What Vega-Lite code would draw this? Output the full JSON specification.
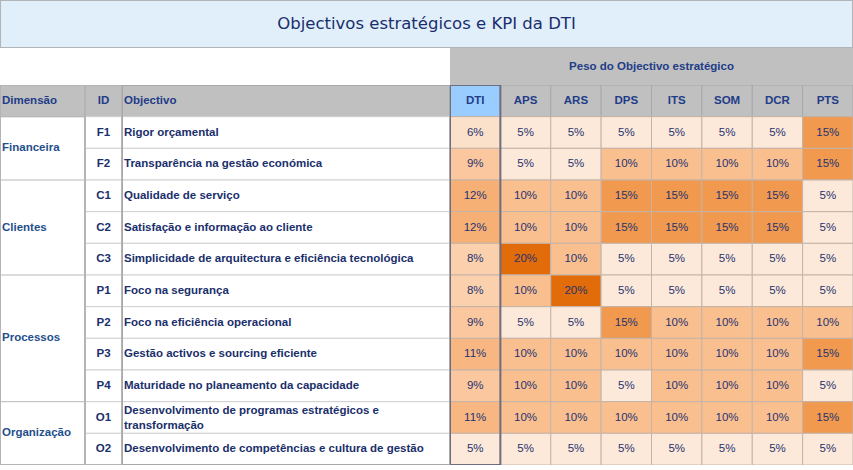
{
  "$schema": "https://vega.github.io/schema/vega-lite/v6.json",
  "padding": 0,
  "spacing": 0,
  "background": "white",
  "config": {
    "view": {"stroke": null},
    "concat": {"spacing": 0},
    "font": "Liberation Sans",
    "text": {"font": "Liberation Sans", "fontSize": 11.5}
  },
  "datasets": {
    "obj": [
      {"dim": "Financeira", "id": "F1", "obj": "Rigor orçamental", "DTI": 0.06, "APS": 0.05, "ARS": 0.05, "DPS": 0.05, "ITS": 0.05, "SOM": 0.05, "DCR": 0.05, "PTS": 0.15},
      {"dim": "Financeira", "id": "F2", "obj": "Transparência na gestão económica", "DTI": 0.09, "APS": 0.05, "ARS": 0.05, "DPS": 0.10, "ITS": 0.10, "SOM": 0.10, "DCR": 0.10, "PTS": 0.15},
      {"dim": "Clientes", "id": "C1", "obj": "Qualidade de serviço", "DTI": 0.12, "APS": 0.10, "ARS": 0.10, "DPS": 0.15, "ITS": 0.15, "SOM": 0.15, "DCR": 0.15, "PTS": 0.05},
      {"dim": "Clientes", "id": "C2", "obj": "Satisfação e informação ao cliente", "DTI": 0.12, "APS": 0.10, "ARS": 0.10, "DPS": 0.15, "ITS": 0.15, "SOM": 0.15, "DCR": 0.15, "PTS": 0.05},
      {"dim": "Clientes", "id": "C3", "obj": "Simplicidade de arquitectura e eficiência tecnológica", "DTI": 0.08, "APS": 0.20, "ARS": 0.10, "DPS": 0.05, "ITS": 0.05, "SOM": 0.05, "DCR": 0.05, "PTS": 0.05},
      {"dim": "Processos", "id": "P1", "obj": "Foco na segurança", "DTI": 0.08, "APS": 0.10, "ARS": 0.20, "DPS": 0.05, "ITS": 0.05, "SOM": 0.05, "DCR": 0.05, "PTS": 0.05},
      {"dim": "Processos", "id": "P2", "obj": "Foco na eficiência operacional", "DTI": 0.09, "APS": 0.05, "ARS": 0.05, "DPS": 0.15, "ITS": 0.10, "SOM": 0.10, "DCR": 0.10, "PTS": 0.10},
      {"dim": "Processos", "id": "P3", "obj": "Gestão activos e sourcing eficiente", "DTI": 0.11, "APS": 0.10, "ARS": 0.10, "DPS": 0.10, "ITS": 0.10, "SOM": 0.10, "DCR": 0.10, "PTS": 0.15},
      {"dim": "Processos", "id": "P4", "obj": "Maturidade no planeamento da capacidade", "DTI": 0.09, "APS": 0.10, "ARS": 0.10, "DPS": 0.05, "ITS": 0.10, "SOM": 0.10, "DCR": 0.10, "PTS": 0.05},
      {"dim": "Organização", "id": "O1", "obj": "Desenvolvimento de programas estratégicos e\ntransformação", "DTI": 0.11, "APS": 0.10, "ARS": 0.10, "DPS": 0.10, "ITS": 0.10, "SOM": 0.10, "DCR": 0.10, "PTS": 0.15},
      {"dim": "Organização", "id": "O2", "obj": "Desenvolvimento de competências e cultura de gestão", "DTI": 0.05, "APS": 0.05, "ARS": 0.05, "DPS": 0.05, "ITS": 0.05, "SOM": 0.05, "DCR": 0.05, "PTS": 0.05}
    ],
    "dims": [
      {"dim": "Financeira", "from": "F1", "at": "F1", "even": true},
      {"dim": "Clientes", "from": "C1", "at": "C2", "even": false},
      {"dim": "Processos", "from": "P1", "at": "P2", "even": true},
      {"dim": "Organização", "from": "O1", "at": "O1", "even": true}
    ],
    "cols": [
      {"col": "DTI"}, {"col": "APS"}, {"col": "ARS"}, {"col": "DPS"},
      {"col": "ITS"}, {"col": "SOM"}, {"col": "DCR"}, {"col": "PTS"}
    ]
  },
  "vconcat": [
    {
      "width": 853,
      "height": 48,
      "data": {"values": [{"t": "Objectivos estratégicos e KPI da DTI", "c": "c"}]},
      "view": {"fill": "#e1effb", "stroke": null},
      "layer": [
        {
          "mark": {"type": "rect", "fill": null, "fillOpacity": 0, "stroke": "#b4b4b4", "strokeWidth": 2, "clip": true},
          "encoding": {
            "x": {"field": "c", "type": "nominal", "scale": {"type": "band", "domain": ["c"], "paddingInner": 0, "paddingOuter": 0}, "axis": null}
          }
        },
        {
          "mark": {"type": "text", "font": "DejaVu Sans", "fontSize": 16.5, "color": "#1a2e6e", "baseline": "middle", "align": "center"},
          "encoding": {
            "x": {"field": "c", "type": "nominal", "axis": null},
            "text": {"field": "t"}
          }
        }
      ]
    },
    {
      "bounds": "flush",
      "spacing": 0,
      "hconcat": [
        {
          "width": 450,
          "height": 37,
          "data": {"values": [{"t": " "}]},
          "view": {"fill": "white", "stroke": null},
          "mark": {"type": "text"},
          "encoding": {"text": {"field": "t"}}
        },
        {
          "width": 403,
          "height": 37,
          "data": {"values": [{"t": "Peso do Objectivo estratégico"}]},
          "view": {"fill": "#c0c0c0", "stroke": null},
          "mark": {"type": "text", "fontWeight": "bold", "fontSize": 11.5, "color": "#1f3c88", "baseline": "middle"},
          "encoding": {"text": {"field": "t"}}
        }
      ]
    },
    {
      "bounds": "flush",
      "spacing": 0,
      "hconcat": [
        {
          "width": 85,
          "height": 380,
          "view": {"fill": "white", "stroke": null},
          "layer": [
            {
              "data": {"values": [{"r": "hdr", "label": "Dimensão"}]},
              "mark": {"type": "rect", "fill": "#c0c0c0", "stroke": "#a8a8a8", "clip": true},
              "encoding": {
                "y": {"field": "r", "type": "nominal", "scale": {"type": "band", "domain": ["hdr", "F1", "F2", "C1", "C2", "C3", "P1", "P2", "P3", "P4", "O1", "O2"], "paddingInner": 0, "paddingOuter": 0}, "axis": null}
              }
            },
            {
              "data": {"values": [{"r": "hdr", "label": "Dimensão"}]},
              "mark": {"type": "text", "fontWeight": "bold", "color": "#1f3c88", "align": "left", "baseline": "middle", "dx": 2},
              "encoding": {
                "x": {"datum": "c", "type": "nominal", "scale": {"type": "band", "domain": ["c"], "paddingInner": 0, "paddingOuter": 0}, "bandPosition": 0, "axis": null},
                "y": {"field": "r", "type": "nominal", "axis": null},
                "text": {"field": "label"}
              }
            },
            {
              "data": {"name": "dims"},
              "mark": {"type": "rule", "color": "#b8b8b8", "clip": true},
              "encoding": {
                "y": {"field": "from", "type": "nominal", "bandPosition": 0, "axis": null}
              }
            },
            {
              "data": {"name": "dims"},
              "transform": [{"filter": "datum.even"}],
              "mark": {"type": "text", "fontWeight": "bold", "color": "#1f4f8c", "align": "left", "baseline": "middle", "dx": 2},
              "encoding": {
                "x": {"datum": "c", "type": "nominal", "bandPosition": 0, "axis": null},
                "y": {"field": "at", "type": "nominal", "bandPosition": 1, "axis": null},
                "text": {"field": "dim"}
              }
            },
            {
              "data": {"name": "dims"},
              "transform": [{"filter": "!datum.even"}],
              "mark": {"type": "text", "fontWeight": "bold", "color": "#1f4f8c", "align": "left", "baseline": "middle", "dx": 2},
              "encoding": {
                "x": {"datum": "c", "type": "nominal", "bandPosition": 0, "axis": null},
                "y": {"field": "at", "type": "nominal", "axis": null},
                "text": {"field": "dim"}
              }
            },
            {
              "data": {"values": [{"c": "c"}]},
              "mark": {"type": "rect", "fill": null, "fillOpacity": 0, "stroke": "#b4b4b4", "strokeWidth": 2, "clip": true},
              "encoding": {
                "x": {"field": "c", "type": "nominal", "axis": null}
              }
            }
          ]
        },
        {
          "width": 37,
          "height": 380,
          "view": {"fill": "white", "stroke": null},
          "layer": [
            {
              "data": {"values": [{"r": "hdr", "label": "ID"}]},
              "mark": {"type": "rect", "fill": "#c0c0c0", "stroke": "#a8a8a8", "clip": true},
              "encoding": {
                "y": {"field": "r", "type": "nominal", "scale": {"type": "band", "domain": ["hdr", "F1", "F2", "C1", "C2", "C3", "P1", "P2", "P3", "P4", "O1", "O2"], "paddingInner": 0, "paddingOuter": 0}, "axis": null}
              }
            },
            {
              "data": {"values": [{"r": "hdr", "label": "ID"}]},
              "mark": {"type": "text", "fontWeight": "bold", "color": "#1f3c88", "baseline": "middle"},
              "encoding": {
                "x": {"datum": "c", "type": "nominal", "scale": {"type": "band", "domain": ["c"], "paddingInner": 0, "paddingOuter": 0}, "axis": null},
                "y": {"field": "r", "type": "nominal", "axis": null},
                "text": {"field": "label"}
              }
            },
            {
              "data": {"name": "obj"},
              "mark": {"type": "rect", "fill": "white", "stroke": "#d0d0d0", "clip": true},
              "encoding": {
                "y": {"field": "id", "type": "nominal", "axis": null}
              }
            },
            {
              "data": {"name": "obj"},
              "mark": {"type": "text", "fontWeight": "bold", "color": "#1a2f6b", "baseline": "middle"},
              "encoding": {
                "x": {"datum": "c", "type": "nominal", "axis": null},
                "y": {"field": "id", "type": "nominal", "axis": null},
                "text": {"field": "id"}
              }
            },
            {
              "data": {"values": [{"c": "c"}]},
              "mark": {"type": "rect", "fill": null, "fillOpacity": 0, "stroke": "#b4b4b4", "strokeWidth": 2, "clip": true},
              "encoding": {
                "x": {"field": "c", "type": "nominal", "axis": null}
              }
            }
          ]
        },
        {
          "width": 328,
          "height": 380,
          "view": {"fill": "white", "stroke": null},
          "layer": [
            {
              "data": {"values": [{"r": "hdr", "label": "Objectivo"}]},
              "mark": {"type": "rect", "fill": "#c0c0c0", "stroke": "#a8a8a8", "clip": true},
              "encoding": {
                "y": {"field": "r", "type": "nominal", "scale": {"type": "band", "domain": ["hdr", "F1", "F2", "C1", "C2", "C3", "P1", "P2", "P3", "P4", "O1", "O2"], "paddingInner": 0, "paddingOuter": 0}, "axis": null}
              }
            },
            {
              "data": {"values": [{"r": "hdr", "label": "Objectivo"}]},
              "mark": {"type": "text", "fontWeight": "bold", "color": "#1f3c88", "align": "left", "baseline": "middle", "dx": 2},
              "encoding": {
                "x": {"datum": "c", "type": "nominal", "scale": {"type": "band", "domain": ["c"], "paddingInner": 0, "paddingOuter": 0}, "bandPosition": 0, "axis": null},
                "y": {"field": "r", "type": "nominal", "axis": null},
                "text": {"field": "label"}
              }
            },
            {
              "data": {"name": "obj"},
              "mark": {"type": "rect", "fill": "white", "stroke": "#d0d0d0", "clip": true},
              "encoding": {
                "y": {"field": "id", "type": "nominal", "axis": null}
              }
            },
            {
              "data": {"name": "obj"},
              "transform": [{"filter": "indexof(datum.obj, '\\n') < 0"}],
              "mark": {"type": "text", "fontWeight": "bold", "color": "#1a2f6b", "align": "left", "baseline": "middle", "dx": 2},
              "encoding": {
                "x": {"datum": "c", "type": "nominal", "bandPosition": 0, "axis": null},
                "y": {"field": "id", "type": "nominal", "axis": null},
                "text": {"field": "obj"}
              }
            },
            {
              "data": {"name": "obj"},
              "transform": [{"filter": "indexof(datum.obj, '\\n') >= 0"}],
              "mark": {"type": "text", "fontWeight": "bold", "color": "#1a2f6b", "align": "left", "baseline": "middle", "dx": 2, "dy": -7, "lineBreak": "\n", "lineHeight": 15},
              "encoding": {
                "x": {"datum": "c", "type": "nominal", "bandPosition": 0, "axis": null},
                "y": {"field": "id", "type": "nominal", "axis": null},
                "text": {"field": "obj"}
              }
            },
            {
              "data": {"values": [{"c": "c"}]},
              "mark": {"type": "rect", "fill": null, "fillOpacity": 0, "stroke": "#a8a8a8", "strokeWidth": 2, "clip": true},
              "encoding": {
                "x": {"field": "c", "type": "nominal", "axis": null}
              }
            }
          ]
        },
        {
          "width": 403,
          "height": 380,
          "view": {"fill": "white", "stroke": null},
          "layer": [
            {
              "data": {"name": "cols"},
              "mark": {"type": "rect", "stroke": "#a8a8a8", "clip": true},
              "encoding": {
                "x": {"field": "col", "type": "nominal", "scale": {"type": "band", "domain": ["DTI", "APS", "ARS", "DPS", "ITS", "SOM", "DCR", "PTS"], "paddingInner": 0, "paddingOuter": 0}, "axis": null},
                "y": {"datum": "hdr", "type": "nominal", "scale": {"type": "band", "domain": ["hdr", "F1", "F2", "C1", "C2", "C3", "P1", "P2", "P3", "P4", "O1", "O2"], "paddingInner": 0, "paddingOuter": 0}, "axis": null},
                "fill": {"condition": {"test": "datum.col === 'DTI'", "value": "#99ccff"}, "value": "#c0c0c0"}
              }
            },
            {
              "data": {"name": "cols"},
              "mark": {"type": "text", "fontWeight": "bold", "color": "#1f3c88", "baseline": "middle"},
              "encoding": {
                "x": {"field": "col", "type": "nominal", "axis": null},
                "y": {"datum": "hdr", "type": "nominal", "axis": null},
                "text": {"field": "col"}
              }
            },
            {
              "data": {"name": "obj"},
              "transform": [{"fold": ["DTI", "APS", "ARS", "DPS", "ITS", "SOM", "DCR", "PTS"], "as": ["col", "v"]}],
              "mark": {"type": "rect", "stroke": "#c4b4a8", "strokeWidth": 1, "clip": true},
              "encoding": {
                "x": {"field": "col", "type": "nominal", "axis": null},
                "y": {"field": "id", "type": "nominal", "axis": null},
                "fill": {"field": "v", "type": "quantitative", "scale": {"type": "linear", "domain": [0.05, 0.10, 0.15, 0.20], "range": ["#fde9d9", "#fabf8f", "#f0994f", "#e26b0a"], "interpolate": "rgb"}, "legend": null}
              }
            },
            {
              "data": {"name": "obj"},
              "transform": [{"fold": ["DTI", "APS", "ARS", "DPS", "ITS", "SOM", "DCR", "PTS"], "as": ["col", "v"]}],
              "mark": {"type": "text", "color": "#1f3370", "baseline": "middle"},
              "encoding": {
                "x": {"field": "col", "type": "nominal", "axis": null},
                "y": {"field": "id", "type": "nominal", "axis": null},
                "text": {"field": "v", "type": "quantitative", "format": ".0%"}
              }
            },
            {
              "data": {"values": [{"col": "DTI"}]},
              "mark": {"type": "rect", "fill": null, "fillOpacity": 0, "stroke": "#6e6e80", "strokeWidth": 2, "clip": true},
              "encoding": {
                "x": {"field": "col", "type": "nominal", "axis": null}
              }
            }
          ]
        }
      ]
    }
  ]
}
